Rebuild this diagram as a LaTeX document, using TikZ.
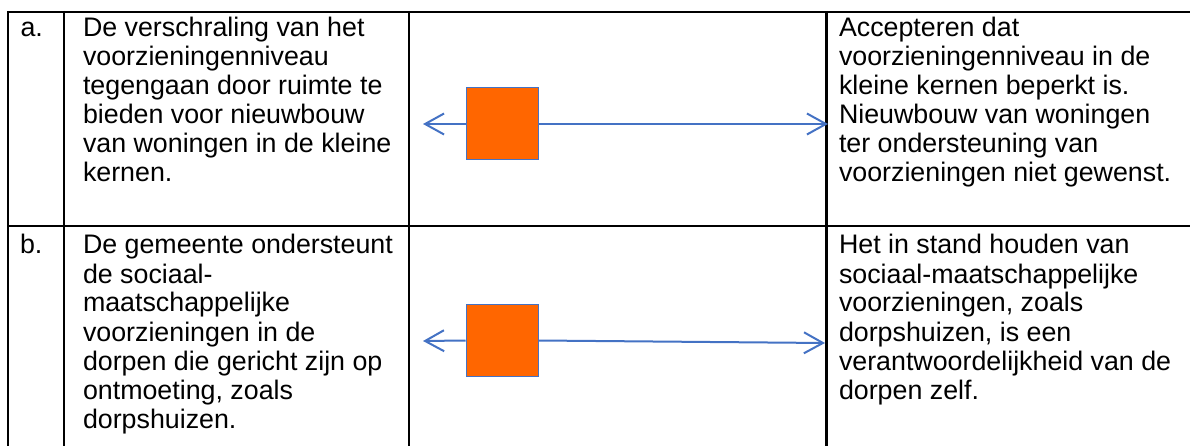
\documentclass[tikz,border=0pt]{standalone}
\usepackage{fontspec}
\setmainfont{Liberation Sans}
\usetikzlibrary{arrows.meta}
\definecolor{officeblue}{HTML}{4472C4}
\definecolor{boxorange}{HTML}{FF6600}
\newcommand{\celltext}[1]{\parbox[t]{340pt}{\fontsize{26.8}{29}\selectfont\raggedright #1}}
\tikzset{
  grid/.style={line width=2.2pt, black},
  cell/.style={anchor=base west, inner sep=0pt, outer sep=0pt},
  sq/.style={draw=officeblue, line width=1pt, fill=boxorange, minimum size=72pt, inner sep=0pt},
  conn/.style={draw=officeblue, line width=2pt, -{Straight Barb[length=19pt,width=21pt,line width=2pt]}},
}
\begin{document}
\begin{tikzpicture}[x=1pt,y=-1pt]
\useasboundingbox (0,0) rectangle (1190,446);
% table grid
\draw[grid] (8,12) -- (1190,12);
\draw[grid] (8,226) -- (1190,226);
\draw[grid] (8,11) -- (8,446);
\draw[grid] (64,11) -- (64,446);
\draw[grid] (409,11) -- (409,446);
\draw[grid] (826.5,11) -- (826.5,446);
% row a
\node[cell] (la) at (20.5,36.5) {\celltext{a.}};
\node[cell] (ta) at (83,36.5) {\celltext{De verschraling van het\\voorzieningenniveau\\tegengaan door ruimte te\\bieden voor nieuwbouw\\van woningen in de kleine\\kernen.}};
\node[cell] (ra) at (839,36.5) {\celltext{Accepteren dat\\voorzieningenniveau in de\\kleine kernen beperkt is.\\Nieuwbouw van woningen\\ter ondersteuning van\\voorzieningen niet gewenst.}};
\coordinate (aL) at (423,124);
\coordinate (aR) at (828,124);
\node[sq] (sqA) at (502,124) {};
\draw[conn] (sqA.west) -- (aL);
\draw[conn] (sqA.east) -- (aR);
% row b
\node[cell] (lb) at (20,254) {\celltext{b.}};
\node[cell] (tb) at (83,254) {\celltext{De gemeente ondersteunt\\de sociaal-\\maatschappelijke\\voorzieningen in de\\dorpen die gericht zijn op\\ontmoeting, zoals\\dorpshuizen.}};
\node[cell] (rb) at (839,254) {\celltext{Het in stand houden van\\sociaal-maatschappelijke\\voorzieningen, zoals\\dorpshuizen, is een\\verantwoordelijkheid van de\\dorpen zelf.}};
\coordinate (bL) at (423,341);
\coordinate (bR) at (825,343);
\node[sq] (sqB) at (502,340.5) {};
\draw[conn] (sqB.west) -- (bL);
\draw[conn] (sqB.east) -- (bR);
\end{tikzpicture}
\end{document}
